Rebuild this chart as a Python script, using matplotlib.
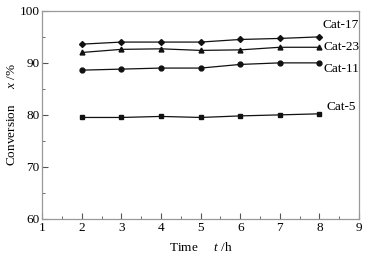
import matplotlib.pyplot as plt
from matplotlib.ticker import MultipleLocator

plt.rcParams['font.family'] = ['Liberation Serif', 'DejaVu Serif']
plt.rcParams['mathtext.fontset'] = 'custom'
plt.rcParams['mathtext.it'] = 'Liberation Serif:italic'
plt.rcParams['mathtext.rm'] = 'Liberation Serif'

# data
time_h = [2, 3, 4, 5, 6, 7, 8]
cat17 = [93.6, 94.0, 94.0, 94.0, 94.5, 94.7, 95.0]
cat23 = [92.0, 92.6, 92.7, 92.4, 92.5, 93.0, 93.0]
cat11 = [88.6, 88.8, 89.0, 89.0, 89.7, 90.0, 90.0]
cat5 = [79.5, 79.5, 79.7, 79.5, 79.8, 80.0, 80.2]

fig, ax = plt.subplots(figsize=(3.74, 2.59), dpi=100)
fig.subplots_adjust(left=0.113, right=0.96, top=0.958, bottom=0.155)

lw = 0.9
ms = 3.5
ax.plot(time_h, cat17, color='#111111', lw=lw, marker='D', ms=ms - 0.5)
ax.plot(time_h, cat23, color='#111111', lw=lw, marker='^', ms=ms)
ax.plot(time_h, cat11, color='#111111', lw=lw, marker='o', ms=ms)
ax.plot(time_h, cat5, color='#111111', lw=lw, marker='s', ms=ms - 0.5)

fs = 9.5
ax.text(8.07, 97.2, 'Cat-17', fontsize=fs, ha='left', va='center')
ax.text(8.1, 93.0, 'Cat-23', fontsize=fs, ha='left', va='center')
ax.text(8.1, 88.8, 'Cat-11', fontsize=fs, ha='left', va='center')
ax.text(8.17, 81.5, 'Cat-5', fontsize=fs, ha='left', va='center')

ax.set_xlim(1, 9)
ax.set_ylim(60, 100)
ax.xaxis.set_major_locator(MultipleLocator(1))
ax.xaxis.set_minor_locator(MultipleLocator(0.5))
ax.yaxis.set_major_locator(MultipleLocator(10))
ax.yaxis.set_minor_locator(MultipleLocator(5))
ax.tick_params(which='both', direction='in', top=False, right=False,
               labelsize=fs, pad=2, color='#555555')
ax.tick_params(which='major', length=4)
ax.tick_params(which='minor', length=2)
for s in ax.spines.values():
    s.set_color('#999999')
    s.set_linewidth(0.9)

ax.set_xlabel('Time     $t$ /h', fontsize=fs, labelpad=5)
ax.set_ylabel('Conversion     $x$ /%', fontsize=fs, labelpad=1)

plt.savefig('out.png', dpi=100)
